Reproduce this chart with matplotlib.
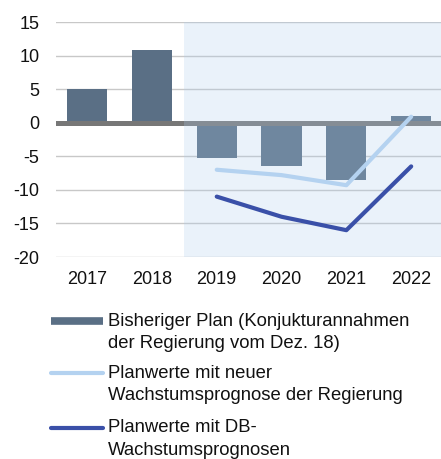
import matplotlib
matplotlib.use("Agg")
import matplotlib.pyplot as plt
from matplotlib.lines import Line2D
from matplotlib.patches import Rectangle

years = ["2017", "2018", "2019", "2020", "2021", "2022"]
bisheriger_plan = [5.0, 10.9, -5.2, -6.4, -8.6, 1.0]
line_years = ["2019", "2020", "2021", "2022"]
neue_prognose = [-7.0, -7.8, -9.3, 0.9]
db_prognose = [-11.0, -14.0, -16.0, -6.5]
yticks = [15, 10, 5, 0, -5, -10, -15, -20]

labels = [["Bisheriger Plan (Konjukturannahmen", "der Regierung vom Dez. 18)"],
          ["Planwerte mit neuer", "Wachstumsprognose der Regierung"],
          ["Planwerte mit DB-", "Wachstumsprognosen"]]

plt.rcParams['font.family'] = ['Liberation Sans', 'DejaVu Sans']

W, H = 441, 459
fig = plt.figure(figsize=(W / 100, H / 100), dpi=100)
ax = fig.add_axes([0.127, 0.440, 0.873, 0.512])

x = list(range(len(years)))
lx = [years.index(y) for y in line_years]

bar_color = "#5A6F85"
light = "#B4D2F0"
dark = "#3A50A8"
txt = "#111111"

for yv in yticks:
    ax.axhline(yv, color="#C8C8C8", lw=1.0, zorder=1)

ax.bar(x, bisheriger_plan, width=0.62, color=bar_color, zorder=2)
ax.axhline(0, color="#777777", lw=3.6, zorder=3)

ax.add_patch(Rectangle((1.5, -20), 10, 35, facecolor="#AECDEC", alpha=0.26,
                       edgecolor="none", zorder=4))

ax.plot(lx, neue_prognose, color=light, lw=3.0, zorder=5, solid_capstyle="round")
ax.plot(lx, db_prognose, color=dark, lw=3.0, zorder=5, solid_capstyle="round")

ax.set_xlim(-0.48, 5.46)
ax.set_ylim(-20, 15)
ax.set_yticks(yticks)
ax.set_yticklabels([str(v) for v in yticks])
ax.set_xticks(x)
ax.set_xticklabels(years)
ax.tick_params(axis="both", length=0, labelsize=13, colors=txt)
ax.tick_params(axis="y", pad=12)
ax.tick_params(axis="x", pad=10)
for s in ax.spines.values():
    s.set_visible(False)

# legend drawn manually (handle aligned with first text line)
handle_styles = [dict(color=bar_color, lw=5.5, solid_capstyle="butt"),
                 dict(color=light, lw=3.0, solid_capstyle="round"),
                 dict(color=dark, lw=3.0, solid_capstyle="round")]
entry_y = [321, 373, 428]
line_gap = 22.5
for ey, lab, st in zip(entry_y, labels, handle_styles):
    fy = 1 - ey / H
    fig.add_artist(Line2D([51 / W, 103 / W], [fy, fy], transform=fig.transFigure, **st))
    for i, s in enumerate(lab):
        fig.text(108 / W, 1 - (ey + i * line_gap) / H, s, fontsize=13.3,
                 color=txt, va="center", ha="left")

fig.savefig("out.png", dpi=100)
